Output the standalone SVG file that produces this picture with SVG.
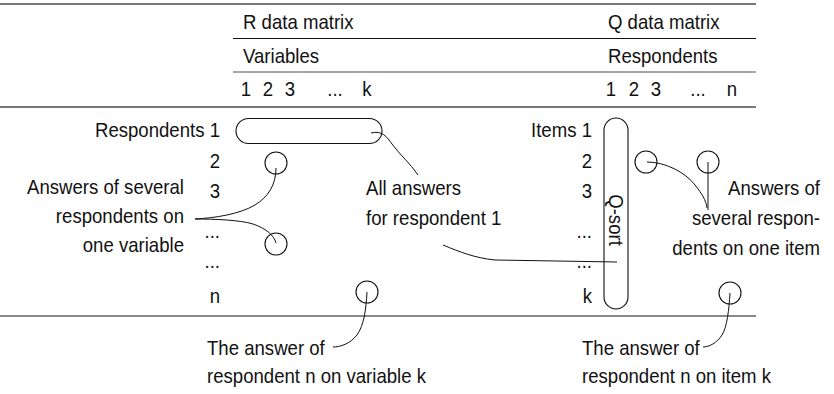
<svg xmlns="http://www.w3.org/2000/svg" width="834" height="394" viewBox="0 0 834 394">
<style>
text{font-family:"Liberation Sans",Arial,sans-serif;font-size:20px;fill:#111;transform:scaleX(.93);transform-box:fill-box;transform-origin:left center}
.e{text-anchor:end;transform-origin:right center}
.m{text-anchor:middle;transform-origin:center center}
.rule-thick{stroke:#777;stroke-width:2}
.rule-gray{stroke:#888;stroke-width:1.5}
.rule-thin{stroke:#111;stroke-width:1.2}
.shape{fill:none;stroke:#111;stroke-width:1.1}
.conn{fill:none;stroke:#111;stroke-width:1}
</style>
<g id="rules">
<line class="rule-thick" x1="0" y1="4" x2="756" y2="4"/>
<line class="rule-thin" x1="233" y1="38.5" x2="756" y2="38.5"/>
<line class="rule-gray" x1="233" y1="72" x2="756" y2="72"/>
<line class="rule-thick" x1="0" y1="107" x2="756" y2="107"/>
<line class="rule-thin" x1="0" y1="316" x2="756" y2="316"/>
</g>
<g id="r-header">
<text x="243" y="29">R data matrix</text>
<text x="243" y="63">Variables</text>
<text class="m" x="246" y="96">1</text>
<text class="m" x="268" y="96">2</text>
<text class="m" x="290" y="96">3</text>
<text class="m" x="335" y="96">...</text>
<text class="m" x="367" y="96">k</text>
</g>
<g id="q-header">
<text x="608" y="29">Q data matrix</text>
<text x="608" y="63">Respondents</text>
<text class="m" x="611" y="96">1</text>
<text class="m" x="634" y="96">2</text>
<text class="m" x="656" y="96">3</text>
<text class="m" x="698" y="96">...</text>
<text class="m" x="732" y="96">n</text>
</g>
<g id="r-rows">
<text class="e" x="220" y="137">Respondents 1</text>
<text class="e" x="220" y="168">2</text>
<text class="e" x="220" y="198">3</text>
<text class="e" x="220" y="238">...</text>
<text class="e" x="220" y="268">...</text>
<text class="e" x="220" y="303">n</text>
</g>
<g id="q-rows">
<text class="e" x="592" y="137">Items 1</text>
<text class="e" x="592" y="168">2</text>
<text class="e" x="592" y="198">3</text>
<text class="e" x="592" y="238">...</text>
<text class="e" x="592" y="268">...</text>
<text class="e" x="592" y="303">k</text>
</g>
<g id="respondent1-row"><rect class="shape" x="236" y="118.5" width="146" height="25" rx="12.5"/></g>
<g id="q-sort"><rect class="shape" x="604" y="118" width="24" height="191" rx="12"/>
<g transform="translate(609,220) rotate(90)"><text class="m" x="0" y="0">Q-sort</text></g></g>
<g id="r-cell-2"><circle class="shape" cx="276" cy="163" r="11"/></g>
<g id="r-cell-dots"><circle class="shape" cx="276" cy="244" r="11"/></g>
<g id="r-cell-nk"><circle class="shape" cx="367" cy="292" r="11"/></g>
<g id="q-cell-a"><circle class="shape" cx="646" cy="162" r="11"/></g>
<g id="q-cell-b"><circle class="shape" cx="708" cy="162" r="11"/></g>
<g id="q-cell-nk"><circle class="shape" cx="730" cy="293" r="11"/></g>
<g id="label-several-variable">
<text class="e" x="184" y="194">Answers of several</text>
<text class="e" x="184" y="223">respondents on</text>
<text class="e" x="184" y="252">one variable</text>
</g>
<g id="label-all-answers">
<text x="366" y="195">All answers</text>
<text x="366" y="225">for respondent 1</text>
</g>
<g id="label-several-item">
<text class="e" x="820" y="195">Answers of</text>
<text class="e" x="820" y="225">several respon-</text>
<text class="e" x="820" y="255">dents on one item</text>
</g>
<g id="label-r-nk">
<text x="207" y="355">The answer of</text>
<text x="207" y="383">respondent n on variable k</text>
</g>
<g id="label-q-nk">
<text x="582" y="355">The answer of</text>
<text x="582" y="383">respondent n on item k</text>
</g>
<g id="connectors">
<path class="conn" d="M371,133 C382,130 387,137 392,144 C400,155 410,163 418,175"/>
<path class="conn" d="M195,219 C215,218 240,214 255,205 C268,197 276,185 276,168"/>
<path class="conn" d="M195,219 C215,219 240,220 253,224 C265,228 274,235 276,243"/>
<path class="conn" d="M443,245 C460,252 475,258 495,260 L617,262"/>
<path class="conn" d="M647,162 C665,162 685,172 695,185 C702,194 706,200 707,208"/>
<path class="conn" d="M708,162 L708,210"/>
<path class="conn" d="M367,292 C366,310 364,325 357,335 C350,344 340,347 333,347"/>
<path class="conn" d="M730,293 C729,310 727,327 722,335 C717,343 709,347 703,347"/>
</g>
</svg>
